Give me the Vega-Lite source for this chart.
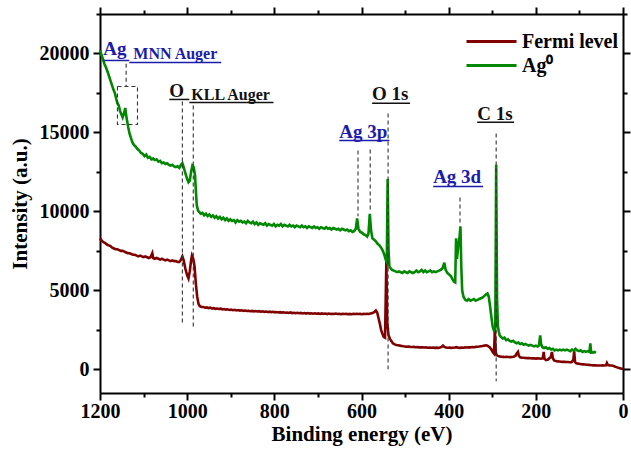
{
"$schema": "https://vega.github.io/schema/vega-lite/v6.json",
"width": 523, "height": 379,
"autosize": {"type": "none"},
"padding": {"left": 100, "top": 14, "right": 8, "bottom": 59},
"background": "white",
"config": {
  "view": {"stroke": null},
  "font": "Liberation Serif",
  "axis": {"grid": false, "domainColor": "black", "domainWidth": 2, "tickColor": "black", "tickWidth": 2,
    "labelFont": "Liberation Serif", "labelFontWeight": "bold", "labelFontSize": 20, "labelColor": "black",
    "titleFont": "Liberation Serif", "titleFontWeight": "bold", "titleFontSize": 21, "titleColor": "black",
    "labelOverlap": false, "labelFlush": false}
},
"datasets": {
"fermi": [
{"E":1200,"I":8300,"s":"Fermi level"},{"E":1196,"I":8150,"s":"Fermi level"},{"E":1192,"I":8050,"s":"Fermi level"},{"E":1188,"I":8000,"s":"Fermi level"},{"E":1184,"I":7900,"s":"Fermi level"},{"E":1180,"I":7850,"s":"Fermi level"},{"E":1176,"I":7800,"s":"Fermi level"},{"E":1172,"I":7700,"s":"Fermi level"},{"E":1168,"I":7650,"s":"Fermi level"},{"E":1164,"I":7600,"s":"Fermi level"},{"E":1160,"I":7600,"s":"Fermi level"},{"E":1156,"I":7550,"s":"Fermi level"},{"E":1152,"I":7500,"s":"Fermi level"},{"E":1148,"I":7500,"s":"Fermi level"},{"E":1144,"I":7450,"s":"Fermi level"},{"E":1140,"I":7400,"s":"Fermi level"},{"E":1136,"I":7350,"s":"Fermi level"},{"E":1132,"I":7350,"s":"Fermi level"},{"E":1128,"I":7300,"s":"Fermi level"},{"E":1124,"I":7250,"s":"Fermi level"},{"E":1120,"I":7250,"s":"Fermi level"},{"E":1116,"I":7200,"s":"Fermi level"},{"E":1112,"I":7150,"s":"Fermi level"},{"E":1108,"I":7200,"s":"Fermi level"},{"E":1104,"I":7150,"s":"Fermi level"},{"E":1100,"I":7100,"s":"Fermi level"},{"E":1096,"I":7150,"s":"Fermi level"},{"E":1092,"I":7100,"s":"Fermi level"},{"E":1088,"I":7050,"s":"Fermi level"},{"E":1084,"I":7100,"s":"Fermi level"},{"E":1080,"I":7350,"s":"Fermi level"},{"E":1078,"I":7050,"s":"Fermi level"},{"E":1074,"I":7000,"s":"Fermi level"},{"E":1070,"I":7050,"s":"Fermi level"},{"E":1066,"I":7000,"s":"Fermi level"},{"E":1062,"I":6950,"s":"Fermi level"},{"E":1058,"I":7000,"s":"Fermi level"},{"E":1054,"I":6950,"s":"Fermi level"},{"E":1050,"I":6900,"s":"Fermi level"},{"E":1046,"I":6950,"s":"Fermi level"},{"E":1042,"I":6900,"s":"Fermi level"},{"E":1038,"I":6850,"s":"Fermi level"},{"E":1034,"I":6900,"s":"Fermi level"},{"E":1030,"I":6850,"s":"Fermi level"},{"E":1026,"I":6850,"s":"Fermi level"},{"E":1022,"I":6800,"s":"Fermi level"},{"E":1018,"I":6800,"s":"Fermi level"},{"E":1014,"I":6950,"s":"Fermi level"},{"E":1011,"I":7150,"s":"Fermi level"},{"E":1008,"I":6900,"s":"Fermi level"},{"E":1004,"I":6350,"s":"Fermi level"},{"E":1000,"I":5950,"s":"Fermi level"},{"E":997,"I":5750,"s":"Fermi level"},{"E":994,"I":6200,"s":"Fermi level"},{"E":991,"I":6900,"s":"Fermi level"},{"E":989,"I":7200,"s":"Fermi level"},{"E":986,"I":7000,"s":"Fermi level"},{"E":983,"I":6500,"s":"Fermi level"},{"E":980,"I":5400,"s":"Fermi level"},{"E":977,"I":4600,"s":"Fermi level"},{"E":974,"I":4150,"s":"Fermi level"},{"E":971,"I":4000,"s":"Fermi level"},{"E":967,"I":3950,"s":"Fermi level"},{"E":963,"I":3950,"s":"Fermi level"},{"E":959,"I":3900,"s":"Fermi level"},{"E":955,"I":3920,"s":"Fermi level"},{"E":951,"I":3880,"s":"Fermi level"},{"E":947,"I":3900,"s":"Fermi level"},{"E":943,"I":3850,"s":"Fermi level"},{"E":939,"I":3870,"s":"Fermi level"},{"E":935,"I":3830,"s":"Fermi level"},{"E":931,"I":3850,"s":"Fermi level"},{"E":927,"I":3820,"s":"Fermi level"},{"E":923,"I":3840,"s":"Fermi level"},{"E":919,"I":3800,"s":"Fermi level"},{"E":915,"I":3820,"s":"Fermi level"},{"E":911,"I":3780,"s":"Fermi level"},{"E":907,"I":3800,"s":"Fermi level"},{"E":903,"I":3760,"s":"Fermi level"},{"E":899,"I":3780,"s":"Fermi level"},{"E":895,"I":3740,"s":"Fermi level"},{"E":891,"I":3770,"s":"Fermi level"},{"E":887,"I":3730,"s":"Fermi level"},{"E":883,"I":3750,"s":"Fermi level"},{"E":879,"I":3720,"s":"Fermi level"},{"E":875,"I":3740,"s":"Fermi level"},{"E":871,"I":3700,"s":"Fermi level"},{"E":867,"I":3720,"s":"Fermi level"},{"E":863,"I":3690,"s":"Fermi level"},{"E":859,"I":3710,"s":"Fermi level"},{"E":855,"I":3680,"s":"Fermi level"},{"E":851,"I":3700,"s":"Fermi level"},{"E":847,"I":3670,"s":"Fermi level"},{"E":843,"I":3690,"s":"Fermi level"},{"E":839,"I":3660,"s":"Fermi level"},{"E":835,"I":3680,"s":"Fermi level"},{"E":831,"I":3650,"s":"Fermi level"},{"E":827,"I":3670,"s":"Fermi level"},{"E":823,"I":3640,"s":"Fermi level"},{"E":819,"I":3660,"s":"Fermi level"},{"E":815,"I":3630,"s":"Fermi level"},{"E":811,"I":3650,"s":"Fermi level"},{"E":807,"I":3620,"s":"Fermi level"},{"E":803,"I":3640,"s":"Fermi level"},{"E":799,"I":3610,"s":"Fermi level"},{"E":795,"I":3630,"s":"Fermi level"},{"E":791,"I":3600,"s":"Fermi level"},{"E":787,"I":3620,"s":"Fermi level"},{"E":783,"I":3590,"s":"Fermi level"},{"E":779,"I":3610,"s":"Fermi level"},{"E":775,"I":3580,"s":"Fermi level"},{"E":771,"I":3600,"s":"Fermi level"},{"E":767,"I":3570,"s":"Fermi level"},{"E":763,"I":3600,"s":"Fermi level"},{"E":759,"I":3560,"s":"Fermi level"},{"E":755,"I":3580,"s":"Fermi level"},{"E":751,"I":3550,"s":"Fermi level"},{"E":747,"I":3580,"s":"Fermi level"},{"E":743,"I":3550,"s":"Fermi level"},{"E":739,"I":3570,"s":"Fermi level"},{"E":735,"I":3540,"s":"Fermi level"},{"E":731,"I":3560,"s":"Fermi level"},{"E":727,"I":3530,"s":"Fermi level"},{"E":723,"I":3560,"s":"Fermi level"},{"E":719,"I":3530,"s":"Fermi level"},{"E":715,"I":3550,"s":"Fermi level"},{"E":711,"I":3520,"s":"Fermi level"},{"E":707,"I":3550,"s":"Fermi level"},{"E":703,"I":3520,"s":"Fermi level"},{"E":699,"I":3540,"s":"Fermi level"},{"E":695,"I":3510,"s":"Fermi level"},{"E":691,"I":3540,"s":"Fermi level"},{"E":687,"I":3510,"s":"Fermi level"},{"E":683,"I":3530,"s":"Fermi level"},{"E":679,"I":3500,"s":"Fermi level"},{"E":675,"I":3530,"s":"Fermi level"},{"E":671,"I":3500,"s":"Fermi level"},{"E":667,"I":3520,"s":"Fermi level"},{"E":663,"I":3500,"s":"Fermi level"},{"E":659,"I":3530,"s":"Fermi level"},{"E":655,"I":3500,"s":"Fermi level"},{"E":651,"I":3520,"s":"Fermi level"},{"E":647,"I":3490,"s":"Fermi level"},{"E":643,"I":3520,"s":"Fermi level"},{"E":639,"I":3500,"s":"Fermi level"},{"E":635,"I":3510,"s":"Fermi level"},{"E":631,"I":3490,"s":"Fermi level"},{"E":627,"I":3510,"s":"Fermi level"},{"E":623,"I":3490,"s":"Fermi level"},{"E":619,"I":3510,"s":"Fermi level"},{"E":615,"I":3500,"s":"Fermi level"},{"E":611,"I":3520,"s":"Fermi level"},{"E":607,"I":3500,"s":"Fermi level"},{"E":603,"I":3510,"s":"Fermi level"},{"E":599,"I":3490,"s":"Fermi level"},{"E":595,"I":3510,"s":"Fermi level"},{"E":591,"I":3500,"s":"Fermi level"},{"E":587,"I":3520,"s":"Fermi level"},{"E":583,"I":3500,"s":"Fermi level"},{"E":579,"I":3530,"s":"Fermi level"},{"E":575,"I":3560,"s":"Fermi level"},{"E":571,"I":3620,"s":"Fermi level"},{"E":567,"I":3720,"s":"Fermi level"},{"E":564,"I":3600,"s":"Fermi level"},{"E":561,"I":3250,"s":"Fermi level"},{"E":558,"I":2900,"s":"Fermi level"},{"E":555,"I":2500,"s":"Fermi level"},{"E":552,"I":2250,"s":"Fermi level"},{"E":549,"I":2050,"s":"Fermi level"},{"E":546,"I":2000,"s":"Fermi level"},{"E":543,"I":6800,"s":"Fermi level"},{"E":541,"I":3000,"s":"Fermi level"},{"E":538,"I":2150,"s":"Fermi level"},{"E":535,"I":1950,"s":"Fermi level"},{"E":532,"I":1800,"s":"Fermi level"},{"E":528,"I":1650,"s":"Fermi level"},{"E":524,"I":1580,"s":"Fermi level"},{"E":520,"I":1540,"s":"Fermi level"},{"E":516,"I":1520,"s":"Fermi level"},{"E":512,"I":1500,"s":"Fermi level"},{"E":508,"I":1480,"s":"Fermi level"},{"E":504,"I":1460,"s":"Fermi level"},{"E":500,"I":1450,"s":"Fermi level"},{"E":496,"I":1430,"s":"Fermi level"},{"E":492,"I":1440,"s":"Fermi level"},{"E":488,"I":1420,"s":"Fermi level"},{"E":484,"I":1410,"s":"Fermi level"},{"E":480,"I":1420,"s":"Fermi level"},{"E":476,"I":1400,"s":"Fermi level"},{"E":472,"I":1410,"s":"Fermi level"},{"E":468,"I":1390,"s":"Fermi level"},{"E":464,"I":1400,"s":"Fermi level"},{"E":460,"I":1390,"s":"Fermi level"},{"E":456,"I":1380,"s":"Fermi level"},{"E":452,"I":1390,"s":"Fermi level"},{"E":448,"I":1370,"s":"Fermi level"},{"E":444,"I":1380,"s":"Fermi level"},{"E":440,"I":1370,"s":"Fermi level"},{"E":436,"I":1380,"s":"Fermi level"},{"E":432,"I":1360,"s":"Fermi level"},{"E":428,"I":1370,"s":"Fermi level"},{"E":424,"I":1360,"s":"Fermi level"},{"E":420,"I":1380,"s":"Fermi level"},{"E":416,"I":1420,"s":"Fermi level"},{"E":413,"I":1500,"s":"Fermi level"},{"E":410,"I":1420,"s":"Fermi level"},{"E":406,"I":1380,"s":"Fermi level"},{"E":402,"I":1370,"s":"Fermi level"},{"E":398,"I":1380,"s":"Fermi level"},{"E":394,"I":1360,"s":"Fermi level"},{"E":390,"I":1370,"s":"Fermi level"},{"E":386,"I":1380,"s":"Fermi level"},{"E":382,"I":1400,"s":"Fermi level"},{"E":378,"I":1370,"s":"Fermi level"},{"E":374,"I":1360,"s":"Fermi level"},{"E":370,"I":1380,"s":"Fermi level"},{"E":366,"I":1370,"s":"Fermi level"},{"E":362,"I":1390,"s":"Fermi level"},{"E":358,"I":1380,"s":"Fermi level"},{"E":354,"I":1400,"s":"Fermi level"},{"E":350,"I":1390,"s":"Fermi level"},{"E":346,"I":1410,"s":"Fermi level"},{"E":342,"I":1400,"s":"Fermi level"},{"E":338,"I":1420,"s":"Fermi level"},{"E":334,"I":1430,"s":"Fermi level"},{"E":330,"I":1440,"s":"Fermi level"},{"E":326,"I":1460,"s":"Fermi level"},{"E":322,"I":1480,"s":"Fermi level"},{"E":318,"I":1500,"s":"Fermi level"},{"E":314,"I":1520,"s":"Fermi level"},{"E":310,"I":1480,"s":"Fermi level"},{"E":306,"I":1400,"s":"Fermi level"},{"E":302,"I":1250,"s":"Fermi level"},{"E":299,"I":1100,"s":"Fermi level"},{"E":296,"I":1000,"s":"Fermi level"},{"E":294,"I":2500,"s":"Fermi level"},{"E":292,"I":1100,"s":"Fermi level"},{"E":290,"I":900,"s":"Fermi level"},{"E":287,"I":850,"s":"Fermi level"},{"E":283,"I":820,"s":"Fermi level"},{"E":279,"I":800,"s":"Fermi level"},{"E":275,"I":790,"s":"Fermi level"},{"E":271,"I":780,"s":"Fermi level"},{"E":267,"I":790,"s":"Fermi level"},{"E":263,"I":780,"s":"Fermi level"},{"E":259,"I":770,"s":"Fermi level"},{"E":255,"I":780,"s":"Fermi level"},{"E":251,"I":800,"s":"Fermi level"},{"E":247,"I":850,"s":"Fermi level"},{"E":244,"I":1000,"s":"Fermi level"},{"E":241,"I":1100,"s":"Fermi level"},{"E":239,"I":850,"s":"Fermi level"},{"E":236,"I":760,"s":"Fermi level"},{"E":232,"I":740,"s":"Fermi level"},{"E":228,"I":730,"s":"Fermi level"},{"E":224,"I":720,"s":"Fermi level"},{"E":220,"I":710,"s":"Fermi level"},{"E":216,"I":720,"s":"Fermi level"},{"E":212,"I":700,"s":"Fermi level"},{"E":208,"I":690,"s":"Fermi level"},{"E":204,"I":700,"s":"Fermi level"},{"E":200,"I":680,"s":"Fermi level"},{"E":196,"I":690,"s":"Fermi level"},{"E":192,"I":680,"s":"Fermi level"},{"E":188,"I":670,"s":"Fermi level"},{"E":184,"I":700,"s":"Fermi level"},{"E":182,"I":1100,"s":"Fermi level"},{"E":180,"I":650,"s":"Fermi level"},{"E":176,"I":580,"s":"Fermi level"},{"E":172,"I":620,"s":"Fermi level"},{"E":169,"I":700,"s":"Fermi level"},{"E":166,"I":760,"s":"Fermi level"},{"E":163,"I":1100,"s":"Fermi level"},{"E":161,"I":700,"s":"Fermi level"},{"E":158,"I":560,"s":"Fermi level"},{"E":154,"I":520,"s":"Fermi level"},{"E":150,"I":500,"s":"Fermi level"},{"E":146,"I":490,"s":"Fermi level"},{"E":142,"I":480,"s":"Fermi level"},{"E":138,"I":470,"s":"Fermi level"},{"E":134,"I":470,"s":"Fermi level"},{"E":130,"I":460,"s":"Fermi level"},{"E":126,"I":460,"s":"Fermi level"},{"E":122,"I":450,"s":"Fermi level"},{"E":118,"I":450,"s":"Fermi level"},{"E":114,"I":600,"s":"Fermi level"},{"E":112,"I":1150,"s":"Fermi level"},{"E":110,"I":450,"s":"Fermi level"},{"E":107,"I":380,"s":"Fermi level"},{"E":103,"I":360,"s":"Fermi level"},{"E":99,"I":340,"s":"Fermi level"},{"E":95,"I":320,"s":"Fermi level"},{"E":91,"I":310,"s":"Fermi level"},{"E":87,"I":300,"s":"Fermi level"},{"E":83,"I":290,"s":"Fermi level"},{"E":79,"I":280,"s":"Fermi level"},{"E":75,"I":270,"s":"Fermi level"},{"E":71,"I":260,"s":"Fermi level"},{"E":67,"I":250,"s":"Fermi level"},{"E":63,"I":250,"s":"Fermi level"},{"E":59,"I":245,"s":"Fermi level"},{"E":55,"I":240,"s":"Fermi level"},{"E":51,"I":240,"s":"Fermi level"},{"E":47,"I":250,"s":"Fermi level"},{"E":43,"I":245,"s":"Fermi level"},{"E":39,"I":260,"s":"Fermi level"},{"E":37,"I":400,"s":"Fermi level"},{"E":35,"I":280,"s":"Fermi level"},{"E":31,"I":250,"s":"Fermi level"},{"E":27,"I":240,"s":"Fermi level"},{"E":23,"I":220,"s":"Fermi level"},{"E":19,"I":180,"s":"Fermi level"},{"E":15,"I":140,"s":"Fermi level"},{"E":11,"I":100,"s":"Fermi level"},{"E":7,"I":70,"s":"Fermi level"},{"E":3,"I":40,"s":"Fermi level"},{"E":0,"I":20,"s":"Fermi level"}
],
"ag": [
{"E":1200,"I":20200,"s":"Ag\u2070"},{"E":1197,"I":19950,"s":"Ag\u2070"},{"E":1194,"I":19700,"s":"Ag\u2070"},{"E":1190,"I":19350,"s":"Ag\u2070"},{"E":1186,"I":19100,"s":"Ag\u2070"},{"E":1182,"I":18800,"s":"Ag\u2070"},{"E":1178,"I":18450,"s":"Ag\u2070"},{"E":1175,"I":18200,"s":"Ag\u2070"},{"E":1172,"I":17950,"s":"Ag\u2070"},{"E":1169,"I":17700,"s":"Ag\u2070"},{"E":1166,"I":17500,"s":"Ag\u2070"},{"E":1163,"I":17150,"s":"Ag\u2070"},{"E":1160,"I":16850,"s":"Ag\u2070"},{"E":1157,"I":16700,"s":"Ag\u2070"},{"E":1154,"I":16350,"s":"Ag\u2070"},{"E":1151,"I":16150,"s":"Ag\u2070"},{"E":1148,"I":15950,"s":"Ag\u2070"},{"E":1145,"I":16200,"s":"Ag\u2070"},{"E":1142,"I":16550,"s":"Ag\u2070"},{"E":1140,"I":16100,"s":"Ag\u2070"},{"E":1138,"I":15750,"s":"Ag\u2070"},{"E":1135,"I":15300,"s":"Ag\u2070"},{"E":1132,"I":14900,"s":"Ag\u2070"},{"E":1129,"I":14650,"s":"Ag\u2070"},{"E":1126,"I":14400,"s":"Ag\u2070"},{"E":1122,"I":14200,"s":"Ag\u2070"},{"E":1118,"I":14100,"s":"Ag\u2070"},{"E":1114,"I":13950,"s":"Ag\u2070"},{"E":1110,"I":13850,"s":"Ag\u2070"},{"E":1106,"I":13700,"s":"Ag\u2070"},{"E":1102,"I":13650,"s":"Ag\u2070"},{"E":1098,"I":13500,"s":"Ag\u2070"},{"E":1094,"I":13600,"s":"Ag\u2070"},{"E":1090,"I":13400,"s":"Ag\u2070"},{"E":1086,"I":13450,"s":"Ag\u2070"},{"E":1082,"I":13300,"s":"Ag\u2070"},{"E":1078,"I":13350,"s":"Ag\u2070"},{"E":1074,"I":13250,"s":"Ag\u2070"},{"E":1070,"I":13300,"s":"Ag\u2070"},{"E":1066,"I":13150,"s":"Ag\u2070"},{"E":1062,"I":13200,"s":"Ag\u2070"},{"E":1058,"I":13050,"s":"Ag\u2070"},{"E":1054,"I":13100,"s":"Ag\u2070"},{"E":1050,"I":13000,"s":"Ag\u2070"},{"E":1046,"I":13050,"s":"Ag\u2070"},{"E":1042,"I":12950,"s":"Ag\u2070"},{"E":1038,"I":12900,"s":"Ag\u2070"},{"E":1034,"I":12950,"s":"Ag\u2070"},{"E":1030,"I":12850,"s":"Ag\u2070"},{"E":1026,"I":12800,"s":"Ag\u2070"},{"E":1022,"I":12850,"s":"Ag\u2070"},{"E":1018,"I":12750,"s":"Ag\u2070"},{"E":1014,"I":12950,"s":"Ag\u2070"},{"E":1011,"I":13050,"s":"Ag\u2070"},{"E":1008,"I":12800,"s":"Ag\u2070"},{"E":1004,"I":12400,"s":"Ag\u2070"},{"E":1000,"I":12050,"s":"Ag\u2070"},{"E":997,"I":11850,"s":"Ag\u2070"},{"E":994,"I":11950,"s":"Ag\u2070"},{"E":991,"I":12500,"s":"Ag\u2070"},{"E":988,"I":12900,"s":"Ag\u2070"},{"E":985,"I":12800,"s":"Ag\u2070"},{"E":982,"I":12300,"s":"Ag\u2070"},{"E":980,"I":11300,"s":"Ag\u2070"},{"E":978,"I":10400,"s":"Ag\u2070"},{"E":975,"I":10050,"s":"Ag\u2070"},{"E":972,"I":9950,"s":"Ag\u2070"},{"E":969,"I":9850,"s":"Ag\u2070"},{"E":965,"I":9900,"s":"Ag\u2070"},{"E":961,"I":9750,"s":"Ag\u2070"},{"E":957,"I":9850,"s":"Ag\u2070"},{"E":953,"I":9700,"s":"Ag\u2070"},{"E":949,"I":9800,"s":"Ag\u2070"},{"E":945,"I":9650,"s":"Ag\u2070"},{"E":941,"I":9750,"s":"Ag\u2070"},{"E":937,"I":9600,"s":"Ag\u2070"},{"E":933,"I":9700,"s":"Ag\u2070"},{"E":929,"I":9550,"s":"Ag\u2070"},{"E":925,"I":9650,"s":"Ag\u2070"},{"E":921,"I":9500,"s":"Ag\u2070"},{"E":917,"I":9600,"s":"Ag\u2070"},{"E":913,"I":9450,"s":"Ag\u2070"},{"E":909,"I":9550,"s":"Ag\u2070"},{"E":905,"I":9400,"s":"Ag\u2070"},{"E":901,"I":9500,"s":"Ag\u2070"},{"E":897,"I":9400,"s":"Ag\u2070"},{"E":893,"I":9450,"s":"Ag\u2070"},{"E":889,"I":9300,"s":"Ag\u2070"},{"E":885,"I":9450,"s":"Ag\u2070"},{"E":881,"I":9350,"s":"Ag\u2070"},{"E":877,"I":9400,"s":"Ag\u2070"},{"E":873,"I":9300,"s":"Ag\u2070"},{"E":869,"I":9350,"s":"Ag\u2070"},{"E":865,"I":9250,"s":"Ag\u2070"},{"E":861,"I":9400,"s":"Ag\u2070"},{"E":857,"I":9300,"s":"Ag\u2070"},{"E":853,"I":9250,"s":"Ag\u2070"},{"E":849,"I":9350,"s":"Ag\u2070"},{"E":845,"I":9200,"s":"Ag\u2070"},{"E":841,"I":9300,"s":"Ag\u2070"},{"E":837,"I":9150,"s":"Ag\u2070"},{"E":833,"I":9250,"s":"Ag\u2070"},{"E":829,"I":9200,"s":"Ag\u2070"},{"E":825,"I":9150,"s":"Ag\u2070"},{"E":821,"I":9250,"s":"Ag\u2070"},{"E":817,"I":9100,"s":"Ag\u2070"},{"E":813,"I":9200,"s":"Ag\u2070"},{"E":809,"I":9150,"s":"Ag\u2070"},{"E":805,"I":9100,"s":"Ag\u2070"},{"E":801,"I":9200,"s":"Ag\u2070"},{"E":797,"I":9050,"s":"Ag\u2070"},{"E":793,"I":9150,"s":"Ag\u2070"},{"E":789,"I":9100,"s":"Ag\u2070"},{"E":785,"I":9200,"s":"Ag\u2070"},{"E":781,"I":9050,"s":"Ag\u2070"},{"E":777,"I":9150,"s":"Ag\u2070"},{"E":773,"I":9100,"s":"Ag\u2070"},{"E":769,"I":9050,"s":"Ag\u2070"},{"E":765,"I":9150,"s":"Ag\u2070"},{"E":761,"I":9050,"s":"Ag\u2070"},{"E":757,"I":9100,"s":"Ag\u2070"},{"E":753,"I":9000,"s":"Ag\u2070"},{"E":749,"I":9100,"s":"Ag\u2070"},{"E":745,"I":9050,"s":"Ag\u2070"},{"E":741,"I":9000,"s":"Ag\u2070"},{"E":737,"I":9100,"s":"Ag\u2070"},{"E":733,"I":9000,"s":"Ag\u2070"},{"E":729,"I":9050,"s":"Ag\u2070"},{"E":725,"I":8950,"s":"Ag\u2070"},{"E":721,"I":9050,"s":"Ag\u2070"},{"E":717,"I":9000,"s":"Ag\u2070"},{"E":713,"I":8950,"s":"Ag\u2070"},{"E":709,"I":9050,"s":"Ag\u2070"},{"E":705,"I":8950,"s":"Ag\u2070"},{"E":701,"I":9000,"s":"Ag\u2070"},{"E":697,"I":8900,"s":"Ag\u2070"},{"E":693,"I":9000,"s":"Ag\u2070"},{"E":689,"I":8950,"s":"Ag\u2070"},{"E":685,"I":8900,"s":"Ag\u2070"},{"E":681,"I":9000,"s":"Ag\u2070"},{"E":677,"I":8900,"s":"Ag\u2070"},{"E":673,"I":8950,"s":"Ag\u2070"},{"E":669,"I":8850,"s":"Ag\u2070"},{"E":665,"I":8950,"s":"Ag\u2070"},{"E":661,"I":8900,"s":"Ag\u2070"},{"E":657,"I":8850,"s":"Ag\u2070"},{"E":653,"I":8900,"s":"Ag\u2070"},{"E":649,"I":8800,"s":"Ag\u2070"},{"E":645,"I":8900,"s":"Ag\u2070"},{"E":641,"I":8850,"s":"Ag\u2070"},{"E":637,"I":8800,"s":"Ag\u2070"},{"E":633,"I":8850,"s":"Ag\u2070"},{"E":629,"I":8750,"s":"Ag\u2070"},{"E":625,"I":8800,"s":"Ag\u2070"},{"E":621,"I":8700,"s":"Ag\u2070"},{"E":617,"I":8750,"s":"Ag\u2070"},{"E":613,"I":8900,"s":"Ag\u2070"},{"E":610,"I":9550,"s":"Ag\u2070"},{"E":607,"I":8900,"s":"Ag\u2070"},{"E":603,"I":8700,"s":"Ag\u2070"},{"E":599,"I":8650,"s":"Ag\u2070"},{"E":595,"I":8550,"s":"Ag\u2070"},{"E":591,"I":8500,"s":"Ag\u2070"},{"E":587,"I":8400,"s":"Ag\u2070"},{"E":584,"I":8600,"s":"Ag\u2070"},{"E":581,"I":9850,"s":"Ag\u2070"},{"E":578,"I":8800,"s":"Ag\u2070"},{"E":575,"I":8300,"s":"Ag\u2070"},{"E":571,"I":8200,"s":"Ag\u2070"},{"E":567,"I":8100,"s":"Ag\u2070"},{"E":563,"I":7950,"s":"Ag\u2070"},{"E":559,"I":7850,"s":"Ag\u2070"},{"E":555,"I":7700,"s":"Ag\u2070"},{"E":551,"I":7500,"s":"Ag\u2070"},{"E":547,"I":7200,"s":"Ag\u2070"},{"E":544,"I":6900,"s":"Ag\u2070"},{"E":542,"I":6800,"s":"Ag\u2070"},{"E":540,"I":12050,"s":"Ag\u2070"},{"E":538,"I":7600,"s":"Ag\u2070"},{"E":536,"I":6500,"s":"Ag\u2070"},{"E":533,"I":6400,"s":"Ag\u2070"},{"E":530,"I":6300,"s":"Ag\u2070"},{"E":526,"I":6250,"s":"Ag\u2070"},{"E":522,"I":6200,"s":"Ag\u2070"},{"E":518,"I":6150,"s":"Ag\u2070"},{"E":514,"I":6200,"s":"Ag\u2070"},{"E":510,"I":6150,"s":"Ag\u2070"},{"E":506,"I":6100,"s":"Ag\u2070"},{"E":502,"I":6200,"s":"Ag\u2070"},{"E":498,"I":6150,"s":"Ag\u2070"},{"E":494,"I":6100,"s":"Ag\u2070"},{"E":490,"I":6200,"s":"Ag\u2070"},{"E":486,"I":6150,"s":"Ag\u2070"},{"E":482,"I":6100,"s":"Ag\u2070"},{"E":478,"I":6150,"s":"Ag\u2070"},{"E":474,"I":6250,"s":"Ag\u2070"},{"E":470,"I":6150,"s":"Ag\u2070"},{"E":466,"I":6200,"s":"Ag\u2070"},{"E":462,"I":6300,"s":"Ag\u2070"},{"E":458,"I":6150,"s":"Ag\u2070"},{"E":454,"I":6250,"s":"Ag\u2070"},{"E":450,"I":6150,"s":"Ag\u2070"},{"E":446,"I":6200,"s":"Ag\u2070"},{"E":442,"I":6250,"s":"Ag\u2070"},{"E":438,"I":6150,"s":"Ag\u2070"},{"E":434,"I":6200,"s":"Ag\u2070"},{"E":430,"I":6150,"s":"Ag\u2070"},{"E":426,"I":6200,"s":"Ag\u2070"},{"E":422,"I":6250,"s":"Ag\u2070"},{"E":418,"I":6300,"s":"Ag\u2070"},{"E":414,"I":6400,"s":"Ag\u2070"},{"E":410,"I":6750,"s":"Ag\u2070"},{"E":407,"I":6300,"s":"Ag\u2070"},{"E":403,"I":6100,"s":"Ag\u2070"},{"E":399,"I":6000,"s":"Ag\u2070"},{"E":395,"I":5900,"s":"Ag\u2070"},{"E":391,"I":5700,"s":"Ag\u2070"},{"E":388,"I":5550,"s":"Ag\u2070"},{"E":385,"I":5500,"s":"Ag\u2070"},{"E":383,"I":8300,"s":"Ag\u2070"},{"E":381,"I":7000,"s":"Ag\u2070"},{"E":378,"I":7800,"s":"Ag\u2070"},{"E":375,"I":8400,"s":"Ag\u2070"},{"E":373,"I":9050,"s":"Ag\u2070"},{"E":371,"I":6500,"s":"Ag\u2070"},{"E":369,"I":5000,"s":"Ag\u2070"},{"E":366,"I":4600,"s":"Ag\u2070"},{"E":362,"I":4400,"s":"Ag\u2070"},{"E":358,"I":4350,"s":"Ag\u2070"},{"E":354,"I":4450,"s":"Ag\u2070"},{"E":350,"I":4350,"s":"Ag\u2070"},{"E":346,"I":4400,"s":"Ag\u2070"},{"E":342,"I":4450,"s":"Ag\u2070"},{"E":338,"I":4350,"s":"Ag\u2070"},{"E":334,"I":4400,"s":"Ag\u2070"},{"E":330,"I":4450,"s":"Ag\u2070"},{"E":326,"I":4500,"s":"Ag\u2070"},{"E":322,"I":4550,"s":"Ag\u2070"},{"E":318,"I":4650,"s":"Ag\u2070"},{"E":314,"I":4750,"s":"Ag\u2070"},{"E":311,"I":4800,"s":"Ag\u2070"},{"E":308,"I":4600,"s":"Ag\u2070"},{"E":305,"I":4000,"s":"Ag\u2070"},{"E":302,"I":3300,"s":"Ag\u2070"},{"E":299,"I":2700,"s":"Ag\u2070"},{"E":296,"I":2450,"s":"Ag\u2070"},{"E":293,"I":2600,"s":"Ag\u2070"},{"E":291,"I":12950,"s":"Ag\u2070"},{"E":289,"I":4500,"s":"Ag\u2070"},{"E":287,"I":2700,"s":"Ag\u2070"},{"E":285,"I":2400,"s":"Ag\u2070"},{"E":283,"I":2150,"s":"Ag\u2070"},{"E":280,"I":2050,"s":"Ag\u2070"},{"E":276,"I":1950,"s":"Ag\u2070"},{"E":272,"I":2000,"s":"Ag\u2070"},{"E":268,"I":1850,"s":"Ag\u2070"},{"E":264,"I":1900,"s":"Ag\u2070"},{"E":260,"I":1800,"s":"Ag\u2070"},{"E":256,"I":1750,"s":"Ag\u2070"},{"E":252,"I":1800,"s":"Ag\u2070"},{"E":248,"I":1700,"s":"Ag\u2070"},{"E":244,"I":1650,"s":"Ag\u2070"},{"E":240,"I":1700,"s":"Ag\u2070"},{"E":236,"I":1600,"s":"Ag\u2070"},{"E":232,"I":1650,"s":"Ag\u2070"},{"E":228,"I":1550,"s":"Ag\u2070"},{"E":224,"I":1600,"s":"Ag\u2070"},{"E":220,"I":1550,"s":"Ag\u2070"},{"E":216,"I":1500,"s":"Ag\u2070"},{"E":212,"I":1550,"s":"Ag\u2070"},{"E":208,"I":1500,"s":"Ag\u2070"},{"E":204,"I":1450,"s":"Ag\u2070"},{"E":200,"I":1500,"s":"Ag\u2070"},{"E":196,"I":1450,"s":"Ag\u2070"},{"E":193,"I":1500,"s":"Ag\u2070"},{"E":190,"I":2150,"s":"Ag\u2070"},{"E":188,"I":1600,"s":"Ag\u2070"},{"E":185,"I":1400,"s":"Ag\u2070"},{"E":181,"I":1350,"s":"Ag\u2070"},{"E":177,"I":1400,"s":"Ag\u2070"},{"E":173,"I":1300,"s":"Ag\u2070"},{"E":169,"I":1350,"s":"Ag\u2070"},{"E":165,"I":1250,"s":"Ag\u2070"},{"E":161,"I":1300,"s":"Ag\u2070"},{"E":157,"I":1200,"s":"Ag\u2070"},{"E":153,"I":1250,"s":"Ag\u2070"},{"E":149,"I":1200,"s":"Ag\u2070"},{"E":145,"I":1250,"s":"Ag\u2070"},{"E":141,"I":1200,"s":"Ag\u2070"},{"E":137,"I":1250,"s":"Ag\u2070"},{"E":133,"I":1200,"s":"Ag\u2070"},{"E":129,"I":1250,"s":"Ag\u2070"},{"E":125,"I":1200,"s":"Ag\u2070"},{"E":121,"I":1150,"s":"Ag\u2070"},{"E":117,"I":1250,"s":"Ag\u2070"},{"E":113,"I":1200,"s":"Ag\u2070"},{"E":109,"I":1300,"s":"Ag\u2070"},{"E":105,"I":1200,"s":"Ag\u2070"},{"E":101,"I":1150,"s":"Ag\u2070"},{"E":97,"I":1200,"s":"Ag\u2070"},{"E":93,"I":1100,"s":"Ag\u2070"},{"E":89,"I":1150,"s":"Ag\u2070"},{"E":85,"I":1100,"s":"Ag\u2070"},{"E":81,"I":1150,"s":"Ag\u2070"},{"E":77,"I":1100,"s":"Ag\u2070"},{"E":75,"I":1650,"s":"Ag\u2070"},{"E":73,"I":1050,"s":"Ag\u2070"},{"E":70,"I":1050,"s":"Ag\u2070"},{"E":66,"I":1100,"s":"Ag\u2070"},{"E":62,"I":1050,"s":"Ag\u2070"}
],
"vlines": [
{"E":1140,"I1":19350,"I2":17911},{"E":1011,"I1":16962,"I2":2785},{"E":986,"I1":16709,"I2":2532},{"E":608,"I1":13860,"I2":9700},{"E":580,"I1":13924,"I2":10000},{"E":539,"I1":16203,"I2":0},{"E":374,"I1":10886,"I2":9100},{"E":291,"I1":14937,"I2":-760}
],
"box": [{"E1":1160,"E2":1114,"I1":17911,"I2":15506}],
"labels": [
{"t":"Ag","E":1192.4,"I":19918,"el":"Ag","part":"main"},
{"t":"MNN Auger","E":1123.6,"I":19665,"el":"Ag","part":"sub"},
{"t":"O","E":1041,"I":17234,"el":"O","part":"main"},
{"t":"KLL Auger","E":990.6,"I":17025,"el":"O","part":"sub"},
{"t":"O 1s","E":575.7,"I":17025,"el":"O","part":"main"},
{"t":"Ag 3p","E":651,"I":14665,"el":"Ag","part":"main"},
{"t":"C 1s","E":334.6,"I":15804,"el":"C","part":"main"},
{"t":"Ag 3d","E":435.6,"I":11791,"el":"Ag","part":"main"}
],
"underlines": [
{"E1":1192.4,"E2":1132.8,"I":19557,"el":"Ag"},
{"E1":1132.8,"E2":921.8,"I":19430,"el":"Ag"},
{"E1":1041,"E2":995,"I":17089,"el":"O"},
{"E1":995,"E2":802,"I":16899,"el":"O"},
{"E1":575.7,"E2":488.6,"I":16855,"el":"O"},
{"E1":651,"E2":536,"I":14494,"el":"Ag"},
{"E1":334.6,"E2":249.8,"I":15652,"el":"C"},
{"E1":435.6,"E2":320.9,"I":11582,"el":"Ag"}
]
},
"layer": [
{
 "data": {"name": "fermi"},
 "mark": {"type": "line", "strokeWidth": 2.6},
 "encoding": {
  "x": {"field": "E", "type": "quantitative", "scale": {"domain": [0, 1200], "reverse": true, "nice": false, "zero": false},
        "axis": {"orient": "bottom", "title": "Binding energy (eV)", "values": [0,100,200,300,400,500,600,700,800,900,1000,1100,1200], "format": "d",
                 "labelExpr": "datum.value % 200 === 0 ? datum.label : ''",
                 "tickSize": {"condition": {"test": "datum.value % 200 === 0", "value": 7}, "value": 4},
                 "labelPadding": 1, "titlePadding": 2}},
  "y": {"field": "I", "type": "quantitative", "scale": {"domain": [-1500, 22500], "nice": false, "zero": false},
        "axis": {"orient": "left", "title": "Intensity (a.u.)", "values": [0,2500,5000,7500,10000,12500,15000,17500,20000,22500], "format": "d",
                 "labelExpr": "datum.value % 5000 === 0 ? datum.label : ''",
                 "tickSize": {"condition": {"test": "datum.value % 5000 === 0", "value": 7}, "value": 4},
                 "labelPadding": 4, "titlePadding": 9}},
  "color": {"field": "s", "type": "nominal",
            "scale": {"domain": ["Fermi level", "Ag\u2070"], "range": ["#800000", "#008800"]},
            "legend": {"orient": "none", "legendX": 365, "legendY": 13.5, "title": null, "symbolType": "M-1,0H3", "symbolSize": 625,
                       "symbolStrokeWidth": 3, "labelFont": "Liberation Serif", "labelFontWeight": "bold", "labelFontSize": 20,
                       "labelColor": "black", "labelOffset": 29, "rowPadding": -1, "padding": 0}}
 }
},
{
 "data": {"name": "ag"},
 "mark": {"type": "line", "strokeWidth": 2.6},
 "encoding": {
  "x": {"field": "E", "type": "quantitative",
        "axis": {"orient": "top", "title": null, "labels": false, "values": [0,100,200,300,400,500,600,700,800,900,1000,1100,1200],
                 "tickSize": {"condition": {"test": "datum.value % 200 === 0", "value": 7}, "value": 4}}},
  "y": {"field": "I", "type": "quantitative",
        "axis": {"orient": "right", "title": null, "labels": false, "values": [0,2500,5000,7500,10000,12500,15000,17500,20000,22500],
                 "tickSize": {"condition": {"test": "datum.value % 5000 === 0", "value": 7}, "value": 4}}},
  "color": {"field": "s", "type": "nominal"}
 }
},
{
 "data": {"name": "vlines"},
 "mark": {"type": "rule", "strokeDash": [4, 3], "strokeWidth": 1.1, "color": "#333333"},
 "encoding": {
  "x": {"field": "E", "type": "quantitative", "axis": null},
  "y": {"field": "I1", "type": "quantitative", "axis": null},
  "y2": {"field": "I2"}
 }
},
{
 "data": {"name": "box"},
 "mark": {"type": "rect", "fillOpacity": 0, "stroke": "#333333", "strokeDash": [4, 3], "strokeWidth": 1.1},
 "encoding": {
  "x": {"field": "E1", "type": "quantitative", "axis": null},
  "x2": {"field": "E2"},
  "y": {"field": "I1", "type": "quantitative", "axis": null},
  "y2": {"field": "I2"}
 }
},
{
 "data": {"name": "underlines"},
 "mark": {"type": "rule", "strokeWidth": 1.5},
 "encoding": {
  "x": {"field": "E1", "type": "quantitative", "axis": null},
  "x2": {"field": "E2"},
  "y": {"field": "I", "type": "quantitative", "axis": null},
  "color": {"condition": {"test": "datum.el === 'Ag'", "value": "#1c1caa"}, "value": "#111111"}
 }
},
{
 "data": {"name": "labels"},
 "mark": {"type": "text", "align": "left", "baseline": "alphabetic", "font": "Liberation Serif", "fontWeight": "bold"},
 "encoding": {
  "x": {"field": "E", "type": "quantitative", "axis": null},
  "y": {"field": "I", "type": "quantitative", "axis": null},
  "text": {"field": "t"},
  "color": {"condition": {"test": "datum.el === 'Ag'", "value": "#1c1caa"}, "value": "#111111"},
  "size": {"condition": {"test": "datum.part === 'sub'", "value": 16}, "value": 19}
 }
}
],
"resolve": {"axis": {"x": "independent", "y": "independent"}}
}
